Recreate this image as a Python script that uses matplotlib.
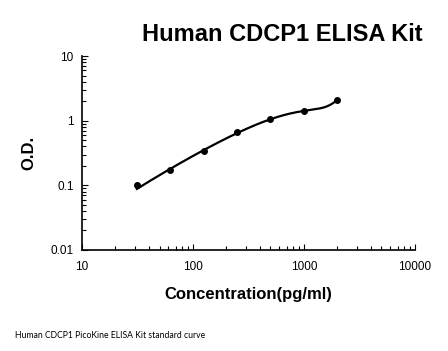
import numpy as np
import matplotlib.pyplot as plt
from matplotlib.ticker import LogLocator, FixedLocator, NullFormatter

# standard curve points
conc = [31.25, 62.5, 125, 250, 500, 1000, 2000]
od = [0.100, 0.172, 0.335, 0.66, 1.05, 1.42, 2.12]

x_ticks = [10, 100, 1000, 10000]
x_labels = ["10", "100", "1000", "10000"]
y_ticks = [0.01, 0.1, 1, 10]
y_labels = ["0.01", "0.1", "1", "10"]

plt.rcParams['font.family'] = ['Liberation Sans', 'DejaVu Sans']

fig = plt.figure(figsize=(4.48, 3.51), dpi=100)
ax = fig.add_axes([0.183, 0.288, 0.743, 0.552])

# cubic trendline on the raw values (as a spreadsheet would), drawn on log axes
coef = np.polyfit(conc, od, 3)
xs = np.logspace(np.log10(conc[0]), np.log10(conc[-1]), 300)
ax.plot(xs, np.polyval(coef, xs), color='black', lw=1.6)
ax.plot(conc, od, 'o', color='black', ms=4)

ax.set_xscale('log')
ax.set_yscale('log')
ax.set_xlim(10, 10000)
ax.set_ylim(0.01, 10)
ax.xaxis.set_major_locator(FixedLocator(x_ticks))
ax.set_xticklabels(x_labels)
ax.yaxis.set_major_locator(FixedLocator(y_ticks))
ax.set_yticklabels(y_labels)
ax.xaxis.set_minor_locator(LogLocator(base=10, subs=np.arange(2, 10)))
ax.yaxis.set_minor_locator(LogLocator(base=10, subs=np.arange(2, 10)))
ax.xaxis.set_minor_formatter(NullFormatter())
ax.yaxis.set_minor_formatter(NullFormatter())

for s in ['top', 'right']:
    ax.spines[s].set_visible(False)
for s in ['left', 'bottom']:
    ax.spines[s].set_linewidth(1.2)

ax.tick_params(which='both', direction='in', width=0.8, labelsize=8.5, colors='black')
ax.tick_params(which='major', length=4)
ax.tick_params(which='minor', length=3)
ax.tick_params(axis='x', pad=8)
ax.tick_params(axis='y', pad=6)

ax.set_xlabel("Concentration(pg/ml)", fontsize=12, fontweight='bold', labelpad=10)
ax.set_ylabel("O.D.", fontsize=12, fontweight='bold', labelpad=10)
fig.text(0.944, 0.903, "Human CDCP1 ELISA Kit", fontsize=17, fontweight='bold',
         ha='right', va='center')
fig.text(0.033, 0.045, "Human CDCP1 PicoKine ELISA Kit standard curve", fontsize=6.2,
         family=['Lato', 'DejaVu Sans'], ha='left', va='center')

fig.savefig("out.png", dpi=100)
